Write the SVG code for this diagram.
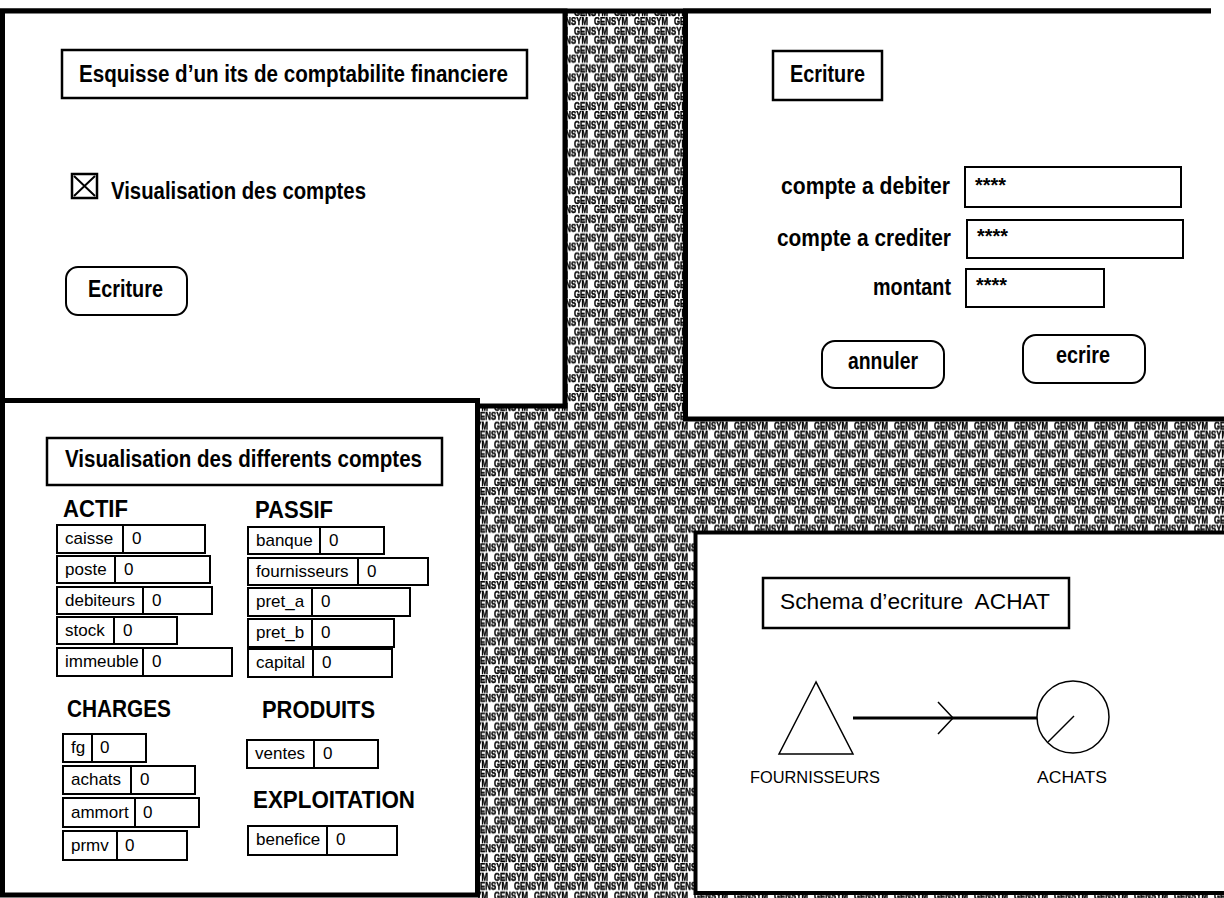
<svg xmlns="http://www.w3.org/2000/svg" width="1224" height="898" viewBox="0 0 1224 898">
<style>
.panel{fill:#fff;stroke:#000;stroke-width:5}
.pfill{fill:#fff;stroke:none}
.pborder{fill:none;stroke:#000;stroke-width:5}
.box{fill:#fff;stroke:#000;stroke-width:2.5}
.btn{fill:#fff;stroke:#000;stroke-width:2}
.fld{fill:#fff;stroke:#000;stroke-width:2}
.div{stroke:#000;stroke-width:2}
.t{font-family:"Liberation Sans",Arial,Helvetica,sans-serif;fill:#000}
.big{font-size:23px;font-weight:bold}
.lab{font-size:17px}
.star{font-size:20px;font-weight:bold}
.g{font-family:"Liberation Sans",Arial,sans-serif;font-size:10px;font-weight:bold;fill:#000;stroke:#000;stroke-width:0.45}
.shape{fill:#fff;stroke:#000;stroke-width:1.5}
.conn{fill:none;stroke:#000;stroke-width:3}
</style>
<defs>
<pattern id="gensym" patternUnits="userSpaceOnUse" x="34" y="17" width="40" height="18.8">
<rect width="40" height="18.8" fill="#fff"/>
<text class="g" x="0" y="8" textLength="34" lengthAdjust="spacingAndGlyphs">GENSYM</text>
<text class="g" x="20" y="17.4" textLength="34" lengthAdjust="spacingAndGlyphs">GENSYM</text>
<text class="g" x="-20" y="17.4" textLength="34" lengthAdjust="spacingAndGlyphs">GENSYM</text>
</pattern>
<marker id="chev" viewBox="0 0 20 34" refX="17" refY="17" markerWidth="20" markerHeight="34" markerUnits="userSpaceOnUse" orient="auto">
<polyline points="2,1 17,17 2,33" fill="none" stroke="#000" stroke-width="1.5"/>
</marker>
</defs>
<rect width="1224" height="898" fill="#fff"/>
<g id="workspace">
<rect x="478" y="11" width="746" height="887" fill="url(#gensym)"/>
<line x1="0" y1="11" x2="1211" y2="11" stroke="#000" stroke-width="5"/>
</g>

<g id="panel-main">
<rect class="panel" x="2.5" y="11" width="562.5" height="395"/>
<g id="main-title">
<rect class="box" x="62" y="50" width="465" height="48"/>
<text class="t big" x="79" y="82" textLength="429" lengthAdjust="spacingAndGlyphs">Esquisse d’un its de comptabilite financiere</text>
</g>
<g id="main-checkbox">
<rect x="72" y="174" width="25" height="24" fill="#fff" stroke="#000" stroke-width="2.5"/>
<path d="M74,176 L95,196 M95,176 L74,196" stroke="#000" stroke-width="2"/>
<text class="t big" x="111" y="199" textLength="255" lengthAdjust="spacingAndGlyphs">Visualisation des comptes</text>
</g>
<g id="main-btn-ecriture">
<rect class="btn" x="66" y="267" width="121" height="48" rx="12"/>
<text class="t big" x="88" y="297" textLength="75" lengthAdjust="spacingAndGlyphs">Ecriture</text>
</g>
</g>

<g id="panel-ecriture">
<rect class="pfill" x="685" y="11" width="545" height="408"/>
<path class="pborder" d="M1211,11 H685.5 V419 H1224"/>
<g id="ecr-title">
<rect class="box" x="773" y="51" width="109" height="49"/>
<text class="t big" x="790" y="82" textLength="75" lengthAdjust="spacingAndGlyphs">Ecriture</text>
</g>
<g id="ecr-debit">
<text class="t big" x="950" y="194" text-anchor="end" textLength="169" lengthAdjust="spacingAndGlyphs">compte a debiter</text>
<rect class="fld" x="965" y="167" width="216" height="40"/>
<text class="t star" x="975" y="192" textLength="31" lengthAdjust="spacingAndGlyphs">****</text>
</g>
<g id="ecr-credit">
<text class="t big" x="951" y="246" text-anchor="end" textLength="174" lengthAdjust="spacingAndGlyphs">compte a crediter</text>
<rect class="fld" x="967" y="220" width="216" height="38"/>
<text class="t star" x="977" y="243" textLength="31" lengthAdjust="spacingAndGlyphs">****</text>
</g>
<g id="ecr-montant">
<text class="t big" x="951" y="295" text-anchor="end" textLength="78" lengthAdjust="spacingAndGlyphs">montant</text>
<rect class="fld" x="966" y="269" width="138" height="38"/>
<text class="t star" x="976" y="292" textLength="31" lengthAdjust="spacingAndGlyphs">****</text>
</g>
<g id="ecr-btn-annuler">
<rect class="btn" x="822" y="341" width="122" height="47" rx="13"/>
<text class="t big" x="848" y="369" textLength="70" lengthAdjust="spacingAndGlyphs">annuler</text>
</g>
<g id="ecr-btn-ecrire">
<rect class="btn" x="1023" y="335" width="122" height="48" rx="13"/>
<text class="t big" x="1056" y="363" textLength="54" lengthAdjust="spacingAndGlyphs">ecrire</text>
</g>
</g>

<g id="panel-comptes">
<rect class="panel" x="2.5" y="400.5" width="475" height="494.5"/>
<g id="cpt-title">
<rect class="box" x="47" y="438" width="395" height="47"/>
<text class="t big" x="65" y="467" textLength="357" lengthAdjust="spacingAndGlyphs">Visualisation des differents comptes</text>
</g>
<text class="t big" x="63" y="517" textLength="65" lengthAdjust="spacingAndGlyphs">ACTIF</text>
<text class="t big" x="255" y="518" textLength="78" lengthAdjust="spacingAndGlyphs">PASSIF</text>
<text class="t big" x="67" y="717" textLength="104" lengthAdjust="spacingAndGlyphs">CHARGES</text>
<text class="t big" x="262" y="718" textLength="113" lengthAdjust="spacingAndGlyphs">PRODUITS</text>
<text class="t big" x="253" y="808" textLength="162" lengthAdjust="spacingAndGlyphs">EXPLOITATION</text>

<g id="acc-caisse"><rect class="fld" x="57" y="525" width="148" height="28"/><line class="div" x1="123" y1="525" x2="123" y2="553"/><text class="t lab" x="65" y="544">caisse</text><text class="t lab" x="132" y="544">0</text></g>
<g id="acc-poste"><rect class="fld" x="57" y="556" width="153" height="27"/><line class="div" x1="115" y1="556" x2="115" y2="583"/><text class="t lab" x="65" y="575">poste</text><text class="t lab" x="124" y="575">0</text></g>
<g id="acc-debiteurs"><rect class="fld" x="57" y="587" width="155" height="27"/><line class="div" x1="143" y1="587" x2="143" y2="614"/><text class="t lab" x="65" y="606">debiteurs</text><text class="t lab" x="152" y="606">0</text></g>
<g id="acc-stock"><rect class="fld" x="57" y="617" width="120" height="27"/><line class="div" x1="114" y1="617" x2="114" y2="644"/><text class="t lab" x="65" y="636">stock</text><text class="t lab" x="123" y="636">0</text></g>
<g id="acc-immeuble"><rect class="fld" x="57" y="648" width="175" height="28"/><line class="div" x1="143" y1="648" x2="143" y2="676"/><text class="t lab" x="65" y="667">immeuble</text><text class="t lab" x="152" y="667">0</text></g>

<g id="acc-banque"><rect class="fld" x="248" y="527" width="136" height="27"/><line class="div" x1="320" y1="527" x2="320" y2="554"/><text class="t lab" x="256" y="546">banque</text><text class="t lab" x="329" y="546">0</text></g>
<g id="acc-fournisseurs"><rect class="fld" x="248" y="558" width="180" height="27"/><line class="div" x1="358" y1="558" x2="358" y2="585"/><text class="t lab" x="256" y="577">fournisseurs</text><text class="t lab" x="367" y="577">0</text></g>
<g id="acc-pret_a"><rect class="fld" x="248" y="588" width="162" height="28"/><line class="div" x1="312" y1="588" x2="312" y2="616"/><text class="t lab" x="256" y="607">pret_a</text><text class="t lab" x="321" y="607">0</text></g>
<g id="acc-pret_b"><rect class="fld" x="248" y="619" width="146" height="28"/><line class="div" x1="312" y1="619" x2="312" y2="647"/><text class="t lab" x="256" y="638">pret_b</text><text class="t lab" x="321" y="638">0</text></g>
<g id="acc-capital"><rect class="fld" x="248" y="649" width="144" height="28"/><line class="div" x1="313" y1="649" x2="313" y2="677"/><text class="t lab" x="256" y="668">capital</text><text class="t lab" x="322" y="668">0</text></g>

<g id="acc-fg"><rect class="fld" x="63" y="734" width="83" height="28"/><line class="div" x1="92" y1="734" x2="92" y2="762"/><text class="t lab" x="71" y="753">fg</text><text class="t lab" x="100" y="753">0</text></g>
<g id="acc-achats"><rect class="fld" x="63" y="766" width="132" height="28"/><line class="div" x1="131" y1="766" x2="131" y2="794"/><text class="t lab" x="71" y="785">achats</text><text class="t lab" x="140" y="785">0</text></g>
<g id="acc-ammort"><rect class="fld" x="63" y="798" width="136" height="29"/><line class="div" x1="135" y1="798" x2="135" y2="827"/><text class="t lab" x="71" y="818">ammort</text><text class="t lab" x="143" y="818">0</text></g>
<g id="acc-prmv"><rect class="fld" x="63" y="831" width="124" height="29"/><line class="div" x1="117" y1="831" x2="117" y2="860"/><text class="t lab" x="71" y="851">prmv</text><text class="t lab" x="125" y="851">0</text></g>

<g id="acc-ventes"><rect class="fld" x="247" y="740" width="131" height="28"/><line class="div" x1="314" y1="740" x2="314" y2="768"/><text class="t lab" x="255" y="759">ventes</text><text class="t lab" x="323" y="759">0</text></g>
<g id="acc-benefice"><rect class="fld" x="248" y="826" width="149" height="29"/><line class="div" x1="327" y1="826" x2="327" y2="855"/><text class="t lab" x="256" y="845">benefice</text><text class="t lab" x="336" y="845">0</text></g>
</g>

<g id="panel-schema">
<rect class="pfill" x="695" y="532" width="540" height="361"/>
<path d="M1224,532.5 H695.5 V893 H1224" fill="none" stroke="#000" stroke-width="4"/>
<g id="schema-title">
<rect class="box" x="763" y="578" width="306" height="50"/>
<text class="t" font-size="22" x="780" y="609" textLength="270" lengthAdjust="spacingAndGlyphs" style="white-space:pre">Schema d’ecriture  ACHAT</text>
</g>
<g id="node-fournisseurs">
<polygon class="shape" points="816,682 779,754 853,754"/>
<text class="t" font-size="17" x="750" y="783" textLength="130" lengthAdjust="spacingAndGlyphs">FOURNISSEURS</text>
</g>
<g id="node-achats">
<circle class="shape" cx="1073" cy="717" r="36"/>
<line x1="1074" y1="716" x2="1048" y2="742" stroke="#000" stroke-width="1.5"/>
<text class="t" font-size="17" x="1037" y="783" textLength="70" lengthAdjust="spacingAndGlyphs">ACHATS</text>
</g>
<g id="connectors">
<path class="conn" d="M853,718 L953,718 L1037,718" marker-mid="url(#chev)"/>
</g>
</g>
</svg>
